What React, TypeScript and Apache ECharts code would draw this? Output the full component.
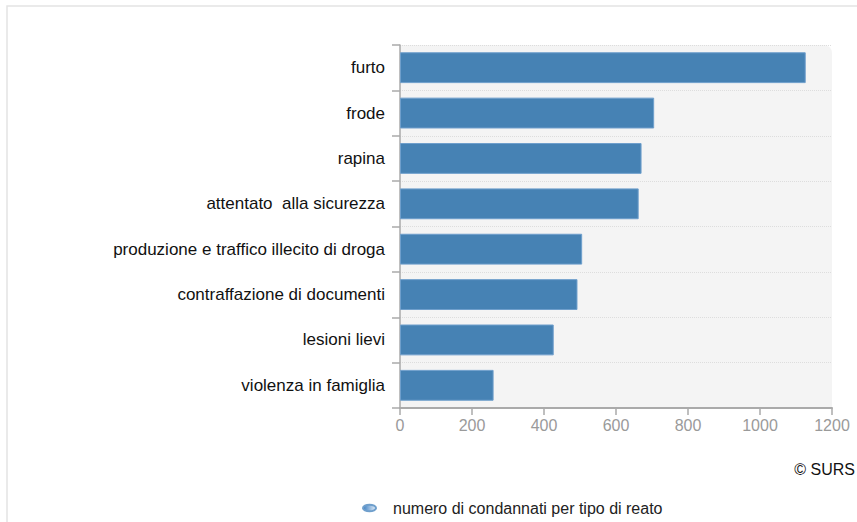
import React, { useEffect, useRef } from "react";
import * as echarts from "echarts";

const categories = [
  "furto",
  "frode",
  "rapina",
  "attentato  alla sicurezza",
  "produzione e traffico illecito di droga",
  "contraffazione di documenti",
  "lesioni lievi",
  "violenza in famiglia",
];
const values = [1127, 706, 671, 663, 506, 493, 427, 260];
const seriesName = "numero di condannati per tipo di reato";
const xTicks = { min: 0, max: 1200, interval: 200 };

export default function App() {
  const ref = useRef<HTMLDivElement>(null);
  useEffect(() => {
    if (!ref.current) return;
    const chart = echarts.init(ref.current, null, { renderer: "svg" });
    chart.setOption({
      animation: false,
      backgroundColor: "#ffffff",
      textStyle: { fontFamily: "Liberation Sans, Arial, sans-serif" },
      graphic: [
        {
          type: "rect",
          shape: { x: 7, y: 6, width: 900, height: 600 },
          style: { fill: "none", stroke: "#e4e4e4", lineWidth: 1.5 },
          z: -10,
        },
        {
          type: "rect",
          shape: { x: 400, y: 45, width: 432, height: 363, r: [0, 8, 0, 0] },
          style: { fill: "#f4f4f4" },
          z: -5,
        },
        {
          type: "text",
          right: 2,
          top: 461,
          style: { text: "© SURS", fill: "#111", fontSize: 16, fontFamily: "Liberation Sans, Arial, sans-serif" },
        },
      ],
      grid: { left: 400, right: 25, top: 45, bottom: 114, show: false },
      legend: {
        left: 362,
        top: 500,
        padding: 0,
        icon: "path://M0,5 A10,5 0 1,0 20,5 A10,5 0 1,0 0,5 Z",
        itemWidth: 13,
        itemHeight: 7,
        itemGap: 10,
        textStyle: { color: "#222", fontSize: 16, padding: [0, 0, 0, 12] },
        data: [
          {
            name: seriesName,
            itemStyle: {
              color: new echarts.graphic.LinearGradient(0, 0, 1, 0, [
                { offset: 0, color: "#3b7fc4" },
                { offset: 1, color: "#e8f0f8" },
              ]),
            },
          },
        ],
      },
      xAxis: {
        type: "value",
        min: xTicks.min,
        max: xTicks.max,
        interval: xTicks.interval,
        axisLine: { show: true, lineStyle: { color: "#aaaaaa", width: 2 } },
        axisTick: { show: true, length: 7, lineStyle: { color: "#aaaaaa", width: 1.5 } },
        axisLabel: { color: "#9a9a9a", fontSize: 16, margin: 9, formatter: (v: number) => String(v) },
        splitLine: { show: false },
      },
      yAxis: {
        type: "category",
        data: categories,
        inverse: true,
        axisLine: { show: true, lineStyle: { color: "#aaaaaa", width: 1.5 } },
        axisTick: { show: true, length: 8, lineStyle: { color: "#aaaaaa", width: 1.5 } },
        axisLabel: { color: "#111111", fontSize: 17, margin: 15 },
        splitLine: { show: true, lineStyle: { color: "#dddddd", type: "dotted" } },
      },
      series: [
        {
          name: seriesName,
          type: "bar",
          data: values,
          barCategoryGap: "32%",
          itemStyle: { color: "#4682b4", borderColor: "#6f9fcc", borderWidth: 1 },
        },
      ],
    });
    return () => chart.dispose();
  }, []);
  return (
    <div
      ref={ref}
      style={{ position: "fixed", left: 0, top: 0, width: 857, height: 522 }}
    />
  );
}
